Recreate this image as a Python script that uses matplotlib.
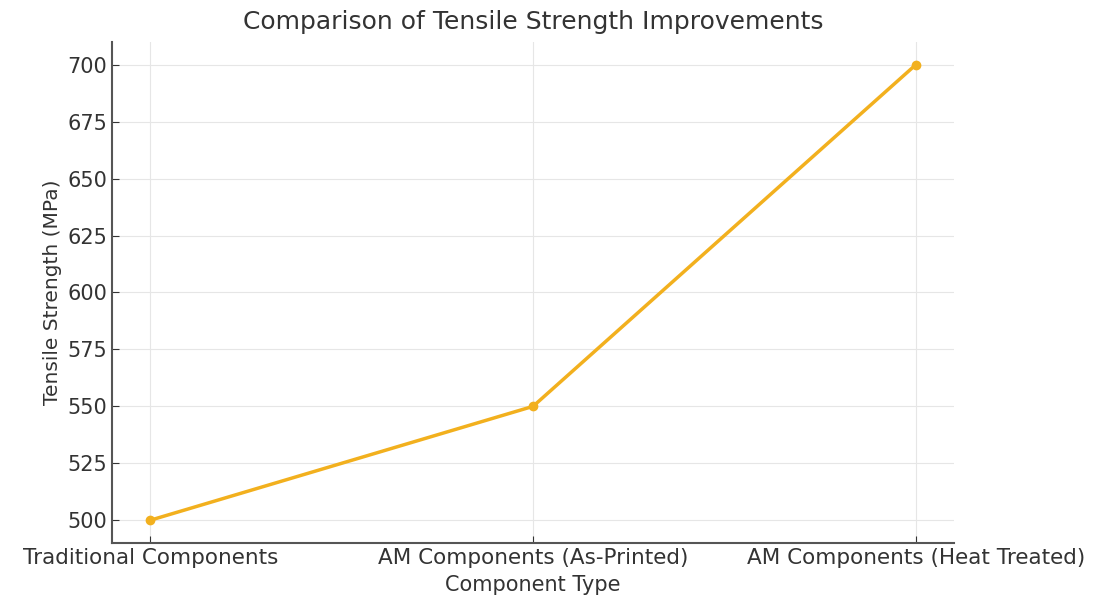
import matplotlib
matplotlib.use("Agg")
import matplotlib.pyplot as plt

categories = ["Traditional Components", "AM Components (As-Printed)", "AM Components (Heat Treated)"]
strength = [500, 550, 700]

fig = plt.figure(figsize=(11.06, 5.99), dpi=100)
ax = fig.add_axes([0.1013, 0.0935, 0.7613, 0.8364])
ax.plot(categories, strength, color="#f2b01e", linewidth=2.5, marker="o", markersize=6)
ax.set_title("Comparison of Tensile Strength Improvements", fontsize=18, color="#333333", pad=9)
ax.set_xlabel("Component Type", fontsize=15, color="#333333", labelpad=5)
ax.set_ylabel("Tensile Strength (MPa)", fontsize=14.5, color="#333333", labelpad=4)
ax.grid(True, color="#e6e6e6", linewidth=0.8)
ax.set_axisbelow(True)
for s in ["top", "right"]:
    ax.spines[s].set_visible(False)
for s in ["left", "bottom"]:
    ax.spines[s].set_color("#555555")
    ax.spines[s].set_linewidth(1.5)
ax.tick_params(direction="in", labelsize=15, colors="#333333", length=5)
ax.tick_params(axis="x", labelsize=15.5)
fig.savefig("out.png", dpi=100)
